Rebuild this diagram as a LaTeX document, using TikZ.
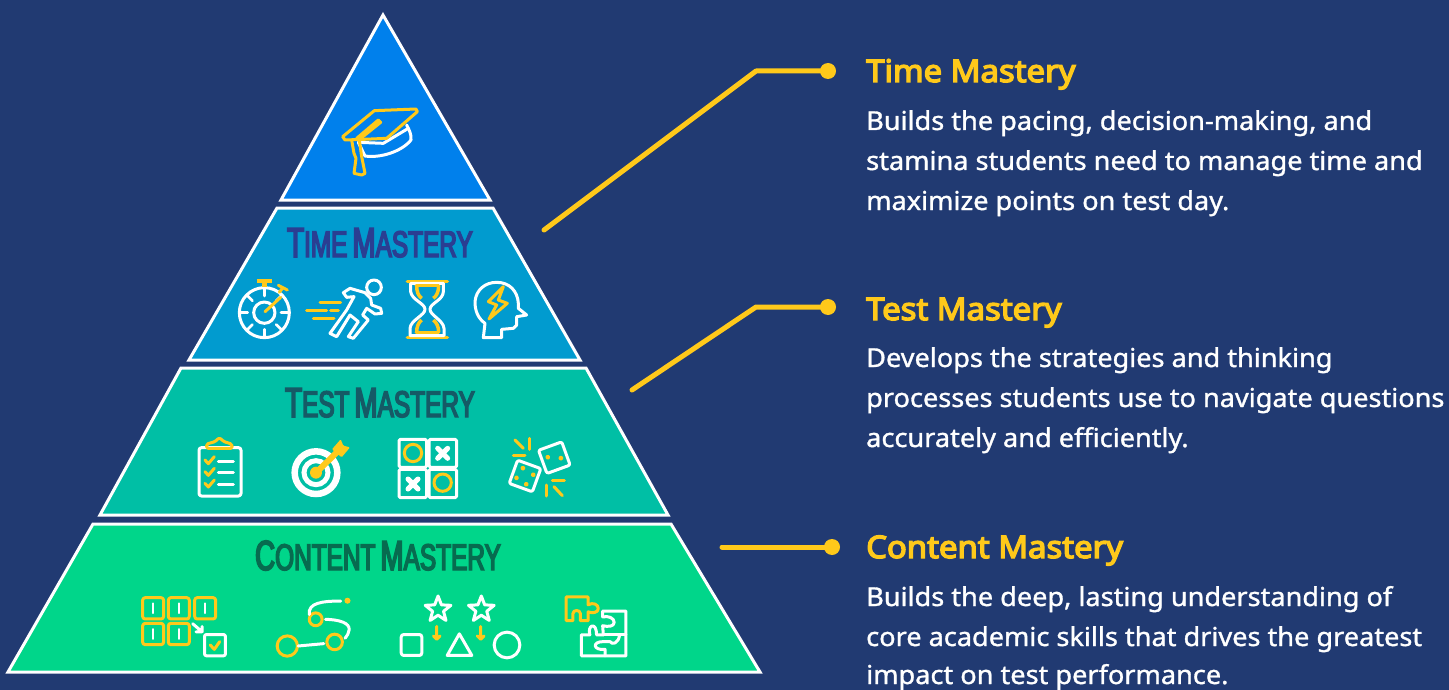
\documentclass[tikz,border=0pt]{standalone}
\usepackage{fontspec}
\setmainfont{Noto Sans}
\newfontfamily\titlefont[FakeStretch=0.66,FakeBold=4]{Liberation Sans}
\newfontfamily\headfont[FakeStretch=1.06,FakeBold=4.5]{Noto Sans}
\newfontfamily\bodyfont[FakeStretch=1.043,FakeBold=1.2]{Noto Sans}
\definecolor{bgc}{HTML}{213A72}
\definecolor{ptop}{HTML}{0080EC}
\definecolor{ptime}{HTML}{019BCF}
\definecolor{ptest}{HTML}{00BFA5}
\definecolor{pcont}{HTML}{00D68A}
\definecolor{gold}{HTML}{FFC91A}
\definecolor{ttime}{HTML}{2A3E92}
\definecolor{ttest}{HTML}{155A66}
\definecolor{tcont}{HTML}{076B4F}
\newcommand{\mycaps}[4]{{\fontsize{42}{42}\selectfont #1}{\fontsize{37}{37}\selectfont #2}\hspace{5pt}{\fontsize{42}{42}\selectfont #3}{\fontsize{37}{37}\selectfont #4}}
\tikzset{
  tier/.style={draw=white,line width=3pt,line join=miter},
  wi/.style={draw=white,line width=3pt,line cap=round,line join=round},
  yi/.style={draw=gold,line width=3pt,line cap=round,line join=round},
  conn/.style={draw=gold,line width=5pt,line cap=round,line join=round},
  dot/.style={circle,fill=gold,inner sep=0pt,minimum size=16pt},
  head/.style={anchor=base west,inner sep=0pt,text=gold,font=\headfont\fontsize{31}{31}\selectfont},
  body/.style={anchor=base west,inner sep=0pt,text=white,font=\bodyfont\fontsize{26}{26}\selectfont},
  tier title/.style={anchor=base,inner sep=0pt,font=\titlefont},
  zoomA/.style={shift={(180,0)},x=0.33333pt,y=-0.33333pt},
  zoomB/.style={shift={(180,370)},x=0.33333pt,y=-0.33333pt},
  zoomC/.style={shift={(120,525)},x=0.338pt,y=-0.338pt},
  zoomD/.style={shift={(230,270)},x=0.33333pt,y=-0.33333pt},
  zoomE/.style={shift={(390,270)},x=0.33333pt,y=-0.33333pt},
  zoomF/.style={shift={(330,95)},x=0.33333pt,y=-0.33333pt},
}
\begin{document}
\begin{tikzpicture}[x=1pt,y=-1pt]
\useasboundingbox[fill=bgc] (0,0) rectangle (1449,690);
% pyramid
\path[tier,fill=ptop] (383,15) -- (490,200) -- (281,200) -- cycle;
\path[tier,fill=ptime] (277,208) -- (493,208) -- (580,360) -- (189,360) -- cycle;
\path[tier,fill=ptest] (181,368) -- (586,368) -- (668,515) -- (100,515) -- cycle;
\path[tier,fill=pcont] (93,524) -- (671,524) -- (760,672) -- (8,672) -- cycle;
% titles
\node[tier title,text=ttime] (t1) at (380,257) {\mycaps{T}{IME}{M}{ASTERY}};
\node[tier title,text=ttest] (t2) at (380,417) {\mycaps{T}{EST}{M}{ASTERY}};
\node[tier title,text=tcont] (t3) at (378,570) {\mycaps{C}{ONTENT}{M}{ASTERY}};
% connectors
\coordinate (c1s) at (544,230); \coordinate (c1b) at (756,71);
\coordinate (c2s) at (632,390); \coordinate (c2b) at (756,307);
\coordinate (c3s) at (722,547);
\node[dot] (d1) at (828,71) {};
\node[dot] (d2) at (828,307) {};
\node[dot] (d3) at (832,547) {};
\draw[conn] (c1s) -- (c1b) -- (d1.center);
\draw[conn] (c2s) -- (c2b) -- (d2.center);
\draw[conn] (c3s) -- (d3.center);
% right texts
\node[head] (h1) at (866,82) {Time Mastery};
\node[body] (b11) at (866,130) {Builds the pacing, decision-making, and};
\node[body] (b12) at (866,170) {stamina students need to manage time and};
\node[body] (b13) at (866,210) {maximize points on test day.};
\node[head] (h2) at (866,320) {Test Mastery};
\node[body] (b21) at (866,367) {Develops the strategies and thinking};
\node[body] (b22) at (866,407) {processes students use to navigate questions};
\node[body] (b23) at (866,447) {accurately and efficiently.};
\node[head] (h3) at (866,558) {Content Mastery};
\node[body] (b31) at (866,606) {Builds the deep, lasting understanding of};
\node[body] (b32) at (866,646) {core academic skills that drives the greatest};
\node[body] (b33) at (866,684) {impact on test performance.};
% graduation cap
\begin{scope}[zoomF]
\draw[wi] (85,142) -- (105,183) .. controls (150,190) and (215,170) .. (243,135) .. controls (245,120) and (238,105) .. (230,90);
\draw[wi] (85,142) -- (160,145) -- (235,100);
\draw[yi] (38,125) -- (133,47) -- (258,42) -- (262,50) -- (170,130) -- (100,133) -- (45,135) -- cycle;
\draw[yi] (80,130) -- (145,75) -- (152,82) -- (95,128) -- (85,135);
\draw[yi] (65,135) -- (72,175) -- (78,190) -- (72,235) -- (95,240) -- (105,235) -- (95,185) -- (88,135);
\end{scope}
% stopwatch
\begin{scope}[zoomD]
\draw[wi] (103,128) circle[radius=75];
\draw[wi] (103,128) circle[radius=32];
\foreach \a in {0,45,...,315} \draw[wi,line width=2.6pt] (103,128) ++(\a:50) -- ++(\a:20);
\draw[yi,line width=4pt,line cap=butt] (82,32) -- (127,32);
\draw[yi,line width=5pt,line cap=butt] (104,34) -- (104,52);
\draw[yi] (145,46) -- (172,60);
\draw[yi] (157,55) -- (148,67);
\draw[yi] (105,125) -- (152,82);
\end{scope}
% runner
\begin{scope}[zoomA]
\draw[wi] (582,862) circle[radius=22];
\draw[wi] (490,878) -- (510,865) -- (555,878) -- (572,895) -- (575,915) -- (602,925) -- (605,940) -- (585,942) -- (560,925) -- (548,945) -- (565,960) -- (520,1015) -- (505,1010) -- (535,965) -- (510,945) -- (470,1010) -- (450,1000) -- (500,930) -- (522,890) -- (500,892) -- cycle;
\draw[yi] (420,907) -- (482,907);
\draw[yi] (380,932) -- (440,932);
\draw[yi] (452,932) -- (475,932);
\draw[yi] (400,955) -- (462,955);
\end{scope}
% hourglass
\begin{scope}[zoomE]
\draw[yi,line width=3.5pt] (52,34) -- (172,34);
\draw[yi,line width=3.5pt] (52,203) -- (172,203);
\draw[wi] (62,40) -- (62,65) .. controls (65,90) and (105,100) .. (105,118) .. controls (105,136) and (62,150) .. (60,175) -- (60,197) -- (162,197) -- (162,175) .. controls (160,150) and (120,136) .. (120,118) .. controls (120,100) and (160,90) .. (160,65) -- (160,40) -- cycle;
\draw[yi] (78,46) -- (146,46);
\draw[yi,line width=3.5pt,line cap=butt] (80,46) .. controls (80,65) and (85,78) .. (95,85);
\draw[yi,line width=3.5pt,line cap=butt] (146,46) .. controls (146,65) and (140,78) .. (130,85);
\draw[yi] (78,187) -- (146,187);
\draw[yi,line width=3.5pt,line cap=butt] (80,187) .. controls (80,170) and (85,158) .. (95,150);
\draw[yi,line width=3.5pt,line cap=butt] (146,187) .. controls (146,170) and (140,158) .. (130,150);
% head
\draw[wi] (280,203) -- (285,160) .. controls (265,145) and (255,125) .. (255,95) .. controls (258,60) and (285,37) .. (320,37) .. controls (360,37) and (383,65) .. (385,100) -- (385,115) -- (410,135) -- (380,140) -- (380,165) -- (370,175) -- (335,178) -- (335,203) -- cycle;
\draw[yi] (340,50) -- (295,95) -- (320,105) -- (297,147) -- (352,100) -- (325,90) -- cycle;
\end{scope}
% clipboard
\begin{scope}[zoomB]
\draw[wi,rounded corners=2.5pt] (57,233) rectangle (183,378);
\draw[yi,rounded corners=1.5pt] (80,235) -- (80,222) -- (105,215) -- (118,203) -- (132,215) -- (155,222) -- (157,235) -- cycle;
\foreach \y in {273,308,343} {
  \draw[yi] (75,\y-3) -- (85,\y+8) -- (103,\y-13);
  \draw[wi] (115,\y) -- (160,\y);
}
% target
\draw[white,line width=6.5pt] (408,308) circle[radius=64];
\draw[white,line width=5pt] (408,308) circle[radius=36];
\fill[gold] (408,308) circle[radius=18];
\draw[yi,line width=6pt] (408,308) -- (478,240);
\fill[gold,rounded corners=1pt] (456,238) -- (482,208) -- (490,227) -- (510,232) -- (485,262) -- cycle;
% tic tac toe
\begin{scope}[wi,rounded corners=1.5pt]
\draw (657,208) rectangle (740,292);
\draw (747,208) rectangle (830,292);
\draw (657,298) rectangle (740,383);
\draw (747,298) rectangle (830,383);
\end{scope}
\draw[yi] (699,249) circle[radius=26];
\draw[yi] (788,338) circle[radius=26];
\draw[wi,line width=5pt] (773,235) -- (803,265) (803,235) -- (773,265);
\draw[wi,line width=5pt] (684,327) -- (714,357) (714,327) -- (684,357);
% dice
\begin{scope}[shift={(1123,263)},rotate=20]
\draw[wi,rounded corners=2pt] (-37,-37) rectangle (37,37);
\fill[gold] (-18,-8) circle[radius=7] (18,8) circle[radius=7];
\end{scope}
\begin{scope}[shift={(1035,318)},rotate=-20]
\draw[wi,rounded corners=2pt] (-37,-37) rectangle (37,37);
\fill[gold] (-14,-20) circle[radius=7] (22,-12) circle[radius=7] (-22,14) circle[radius=7] (12,22) circle[radius=7];
\end{scope}
\draw[yi] (1005,210) -- (1030,235);
\draw[yi] (1049,205) -- (1049,238);
\draw[yi] (1000,256) -- (1035,256);
\draw[yi] (1117,330) -- (1153,330);
\draw[yi] (1099,345) -- (1099,378);
\draw[yi] (1122,350) -- (1147,377);
\end{scope}
% content icons
\begin{scope}[zoomC]
\foreach \x/\y in {67/215,143/215,221/215,67/291,143/291} {
  \draw[yi,rounded corners=2.5pt] (\x,\y) rectangle ++(62,63);
  \draw[wi,line width=2pt] (\x+31,\y+17) -- (\x+31,\y+46);
}
\draw[wi] (215,292) -- (243,316) (243,300) -- (243,316) -- (225,316);
\draw[wi,rounded corners=2pt] (250,324) rectangle (312,387);
\draw[yi] (267,355) -- (279,368) -- (295,345);
% roadmap
\draw[yi] (495,358) circle[radius=30];
\draw[yi] (635,346) circle[radius=23];
\draw[yi] (579,279) circle[radius=19];
\fill[gold] (673,224) circle[radius=9];
\draw[wi] (527,358) -- (603,351);
\draw[wi] (653,225) .. controls (600,225) and (555,230) .. (560,265);
\draw[wi] (608,279) .. controls (650,280) and (680,290) .. (678,310) .. controls (677,320) and (672,328) .. (666,335);
% stars etc.
\foreach \cx in {941,1069} {
  \begin{scope}[shift={(\cx,250)}]
  \draw[wi] (-90:40) -- (-54:17) -- (-18:40) -- (18:17) -- (54:40) -- (90:17) -- (126:40) -- (162:17) -- (198:40) -- (234:17) -- cycle;
  \end{scope}
}
\foreach \x in {937,1067} {
  \draw[yi] (\x,300) -- (\x,336) (\x-10,328) -- (\x,338) -- (\x+10,328);
}
\draw[wi,rounded corners=2.5pt] (832,324) rectangle (893,386);
\draw[wi] (968,386) -- (1004,322) -- (1041,386) -- cycle;
\draw[wi] (1145,355) circle[radius=38];
% puzzle
\draw[yi] (1320,213) -- (1385,213) -- (1385,236) .. controls (1400,228) and (1415,235) .. (1415,247) .. controls (1415,260) and (1397,262) .. (1385,257) -- (1385,283) -- (1362,283) -- (1362,262) .. controls (1362,250) and (1340,250) .. (1340,262) -- (1340,283) -- (1320,283) -- cycle;
\draw[wi] (1428,255) -- (1497,255) -- (1497,387) -- (1365,387) -- (1365,325) -- (1390,325) .. controls (1382,295) and (1410,285) .. (1410,325) -- (1430,325);
\draw[wi] (1428,255) -- (1428,272) .. controls (1445,268) and (1462,275) .. (1462,288) .. controls (1462,300) and (1445,302) .. (1428,298) -- (1430,325);
\draw[wi] (1430,325) -- (1497,325);
\draw[wi] (1435,387) -- (1435,368) .. controls (1400,372) and (1395,345) .. (1430,345) -- (1450,345) .. controls (1455,355) and (1475,352) .. (1478,325);
\end{scope}
\end{tikzpicture}
\end{document}
